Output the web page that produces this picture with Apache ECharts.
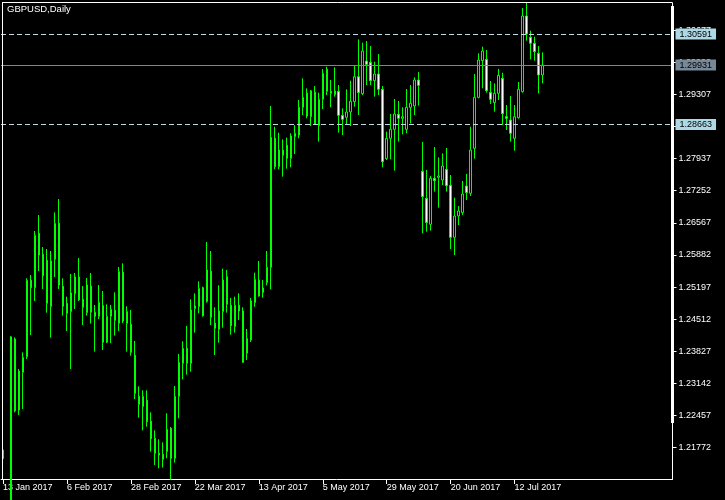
<!DOCTYPE html>
<html>
<head>
<meta charset="utf-8">
<style>
html,body{margin:0;padding:0;background:#000;}
#chart{width:725px;height:500px;}
</style>
<script src="https://cdn.jsdelivr.net/npm/echarts@6/dist/echarts.min.js"></script>
</head>
<body>
<div id="chart"></div>
<script>
const symbolTitle = 'GBPUSD,Daily';

const dates = [
'13 Jan 2017','16 Jan 2017','17 Jan 2017','18 Jan 2017','19 Jan 2017','20 Jan 2017',
'23 Jan 2017','24 Jan 2017','25 Jan 2017','26 Jan 2017','27 Jan 2017','30 Jan 2017','31 Jan 2017',
'1 Feb 2017','2 Feb 2017','3 Feb 2017','6 Feb 2017','7 Feb 2017','8 Feb 2017','9 Feb 2017','10 Feb 2017',
'13 Feb 2017','14 Feb 2017','15 Feb 2017','16 Feb 2017','17 Feb 2017','20 Feb 2017','21 Feb 2017','22 Feb 2017','23 Feb 2017','24 Feb 2017',
'27 Feb 2017','28 Feb 2017','1 Mar 2017','2 Mar 2017','3 Mar 2017','6 Mar 2017','7 Mar 2017','8 Mar 2017','9 Mar 2017','10 Mar 2017',
'13 Mar 2017','14 Mar 2017','15 Mar 2017','16 Mar 2017','17 Mar 2017','20 Mar 2017','21 Mar 2017','22 Mar 2017','23 Mar 2017','24 Mar 2017',
'27 Mar 2017','28 Mar 2017','29 Mar 2017','30 Mar 2017','31 Mar 2017','3 Apr 2017','4 Apr 2017','5 Apr 2017','6 Apr 2017','7 Apr 2017',
'10 Apr 2017','11 Apr 2017','12 Apr 2017','13 Apr 2017','14 Apr 2017','17 Apr 2017','18 Apr 2017','19 Apr 2017','20 Apr 2017','21 Apr 2017',
'24 Apr 2017','25 Apr 2017','26 Apr 2017','27 Apr 2017','28 Apr 2017','1 May 2017','2 May 2017','3 May 2017','4 May 2017','5 May 2017',
'8 May 2017','9 May 2017','10 May 2017','11 May 2017','12 May 2017','15 May 2017','16 May 2017','17 May 2017','18 May 2017','19 May 2017',
'22 May 2017','23 May 2017','24 May 2017','25 May 2017','26 May 2017','29 May 2017','30 May 2017','31 May 2017','1 Jun 2017','2 Jun 2017',
'5 Jun 2017','6 Jun 2017','7 Jun 2017','8 Jun 2017','9 Jun 2017','12 Jun 2017','13 Jun 2017','14 Jun 2017','15 Jun 2017','16 Jun 2017',
'19 Jun 2017','20 Jun 2017','21 Jun 2017','22 Jun 2017','23 Jun 2017','26 Jun 2017','27 Jun 2017','28 Jun 2017','29 Jun 2017','30 Jun 2017',
'3 Jul 2017','4 Jul 2017','5 Jul 2017','6 Jul 2017','7 Jul 2017','10 Jul 2017','11 Jul 2017','12 Jul 2017','13 Jul 2017','14 Jul 2017',
'17 Jul 2017','18 Jul 2017','19 Jul 2017','20 Jul 2017','21 Jul 2017'
];

const opens = [
1.21537,1.20400,1.20350,1.24090,1.22576,1.23379,1.23713,1.25340,1.25184,1.26342,
1.25895,1.25767,1.24779,1.25788,1.26556,1.25212,1.24850,1.24672,1.25056,1.25412,
1.24935,1.24650,1.25219,1.24658,1.24573,1.24800,1.24018,1.24573,1.24701,1.24424,
1.25511,1.24672,1.24402,1.23741,1.22867,1.22647,1.22782,1.22334,1.21971,1.21652,
1.21630,1.21687,1.22185,1.21545,1.22867,1.23571,1.23891,1.23571,1.24736,1.24779,
1.25184,1.24886,1.25532,1.24424,1.24296,1.24672,1.25418,1.24807,1.24353,1.24807,
1.24687,1.23784,1.24068,1.24864,1.25347,1.25077,1.25290,1.25617,1.28368,1.27764,
1.28112,1.28219,1.27942,1.28404,1.28439,1.29030,1.29328,1.28830,1.29349,1.28638,
1.29200,1.29839,1.29370,1.29299,1.29370,1.28858,1.28816,1.28930,1.29150,1.29683,
1.29321,1.30017,1.29989,1.29598,1.29740,1.29413,1.27935,1.28368,1.28560,1.28880,
1.28795,1.28560,1.29029,1.29058,1.29612,1.27665,1.27089,1.26535,1.27515,1.27537,
1.27480,1.27707,1.27366,1.26257,1.26712,1.26783,1.27352,1.27196,1.28155,1.29242,
1.30024,1.30053,1.29349,1.29129,1.29328,1.29647,1.28830,1.28759,1.28368,1.28809,
1.29363,1.30977,1.30522,1.30394,1.30181,1.29719
];
const highs = [
1.21950,1.20870,1.24150,1.24125,1.23450,1.23805,1.25383,1.25454,1.26392,1.26733,
1.26050,1.26009,1.25966,1.26790,1.27075,1.25383,1.24992,1.25475,1.25497,1.25817,
1.25219,1.25390,1.25497,1.24815,1.25240,1.25113,1.24829,1.24815,1.25085,1.25625,
1.25703,1.24786,1.24708,1.24047,1.23080,1.22995,1.22995,1.22526,1.22142,1.21950,
1.21886,1.22505,1.22213,1.23087,1.23770,1.24040,1.24367,1.24935,1.25063,1.25319,
1.25206,1.26158,1.25966,1.24765,1.25234,1.25589,1.25561,1.24964,1.24992,1.25063,
1.24765,1.24303,1.24964,1.25504,1.25752,1.25347,1.25966,1.29058,1.28617,1.28489,
1.28347,1.28382,1.28475,1.28652,1.29185,1.29647,1.29434,1.29399,1.29484,1.29342,
1.29846,1.29896,1.29612,1.29882,1.29505,1.29008,1.29413,1.29598,1.29910,1.30479,
1.30408,1.30444,1.30337,1.30003,1.30166,1.29484,1.28510,1.28887,1.29207,1.29164,
1.29029,1.29420,1.29505,1.29669,1.29782,1.28290,1.27693,1.27565,1.28184,1.27963,
1.28048,1.28162,1.27587,1.27103,1.26925,1.27459,1.27608,1.28617,1.29740,1.30181,
1.30323,1.30252,1.29591,1.29541,1.29847,1.29768,1.29079,1.29271,1.29079,1.29569,
1.31147,1.31260,1.30664,1.30536,1.30337,1.30202
];
const lows = [
1.21400,1.19860,1.20200,1.22526,1.22470,1.22597,1.23663,1.24175,1.24900,1.25540,
1.25156,1.24650,1.24118,1.25412,1.25156,1.24587,1.24260,1.23450,1.24729,1.24900,
1.24388,1.24587,1.24416,1.23820,1.24516,1.23855,1.24004,1.24004,1.24161,1.24260,
1.24431,1.23820,1.23734,1.22810,1.22412,1.22142,1.22220,1.21687,1.21403,1.21332,
1.21346,1.21545,1.21090,1.21453,1.22398,1.23230,1.23330,1.23393,1.24225,1.24637,
1.24566,1.24864,1.24388,1.23748,1.24011,1.24331,1.24651,1.24182,1.24225,1.24495,
1.23585,1.23642,1.24026,1.24779,1.24992,1.24971,1.25234,1.25148,1.27707,1.27707,
1.27551,1.27721,1.27750,1.28034,1.28368,1.28866,1.28795,1.28631,1.28652,1.28297,
1.28994,1.29292,1.29030,1.29256,1.28489,1.28439,1.28674,1.28631,1.29043,1.28866,
1.29292,1.29505,1.29505,1.29257,1.29292,1.27750,1.27906,1.27921,1.27679,1.28297,
1.28454,1.28475,1.28688,1.28866,1.29065,1.26343,1.26378,1.26400,1.27231,1.26890,
1.27373,1.27231,1.26009,1.25881,1.26520,1.26734,1.27053,1.27139,1.27935,1.29221,
1.29434,1.29342,1.29100,1.28937,1.29186,1.28653,1.28546,1.28297,1.28105,1.28788,
1.29342,1.30451,1.30053,1.30024,1.29328,1.29541
];
const closes = [
1.21723,1.20330,1.24139,1.22555,1.23407,1.23699,1.25340,1.25184,1.26300,1.25880,
1.25440,1.24850,1.25753,1.26556,1.25240,1.24786,1.24637,1.25070,1.25412,1.24928,
1.24765,1.25240,1.24658,1.24573,1.24872,1.24018,1.24573,1.24722,1.24488,1.25525,
1.24473,1.24424,1.23805,1.22930,1.22696,1.22867,1.22327,1.21964,1.21652,1.21616,
1.21524,1.22163,1.21545,1.22867,1.23592,1.23891,1.23571,1.24708,1.24793,1.25170,
1.24587,1.25561,1.24551,1.24317,1.24687,1.25347,1.24829,1.24374,1.24807,1.24687,
1.23592,1.24104,1.24900,1.25362,1.25006,1.25177,1.25617,1.28389,1.27764,1.28120,
1.28006,1.27942,1.28418,1.28475,1.29030,1.29242,1.28844,1.29384,1.28674,1.29200,
1.29754,1.29370,1.29328,1.29377,1.28858,1.28773,1.28930,1.29157,1.29683,1.29342,
1.30230,1.29946,1.29598,1.29740,1.29413,1.27871,1.28368,1.28560,1.28887,1.28795,
1.28830,1.29029,1.29115,1.29612,1.29498,1.27125,1.26570,1.27515,1.27466,1.27565,
1.27778,1.27359,1.26257,1.26712,1.26819,1.27181,1.27210,1.28120,1.29242,1.30038,
1.30230,1.29385,1.29200,1.29328,1.29711,1.28894,1.28795,1.28475,1.28830,1.29413,
1.30977,1.30593,1.30394,1.30216,1.29719,1.29931
];

const yTickLabels = [1.21772,1.22457,1.23142,1.23827,1.24512,1.25197,1.25882,1.26567,1.27252,1.27937,1.28622,1.29307,1.29992,1.30677];
const dashedLevels = [1.30591, 1.28663];
const bidLevel = 1.29931;

const yMin = 1.21104, yMax = 1.31254;
const shiftBars = 32;
const labelEvery = 16;

const categories = dates.concat(new Array(shiftBars).fill(''));
const ohlc = opens.map((o, i) => [o, closes[i], lows[i], highs[i]]);

const FONT = 'Liberation Sans, Arial, sans-serif';
const chart = echarts.init(document.getElementById('chart'), null, {renderer: 'canvas'});

const markData = dashedLevels.map(v => ({
  yAxis: v,
  lineStyle: {color: '#c0dce8', type: [5, 3], width: 1},
  label: {backgroundColor: '#add8e6', color: '#000'}
}));
markData.push({
  yAxis: bidLevel,
  lineStyle: {color: '#778899', type: 'solid', width: 1},
  label: {backgroundColor: '#778899', color: '#000'}
});

const showIdx = (idx, val) => idx % labelEvery === 0 && val !== '';

chart.setOption({
  backgroundColor: '#000',
  animation: false,
  textStyle: {fontFamily: FONT},
  title: {
    text: symbolTitle, left: 7, top: 4, padding: 0,
    textStyle: {color: '#fff', fontSize: 9.5, fontWeight: 'normal', fontFamily: FONT}
  },
  grid: {left: 0.5, top: 3, width: 672, height: 476, containLabel: false},
  xAxis: {
    type: 'category', data: categories, boundaryGap: true,
    axisLine: {show: true, lineStyle: {color: '#fff', width: 1}},
    axisTick: {show: true, alignWithLabel: true, interval: showIdx, length: 5, lineStyle: {color: '#fff'}},
    axisLabel: {interval: showIdx, align: 'left', color: '#fff', fontSize: 9, margin: 4, fontFamily: FONT},
    splitLine: {show: false}
  },
  yAxis: {
    type: 'value', position: 'right', min: yMin, max: yMax, scale: true,
    axisLine: {show: true, lineStyle: {color: '#fff', width: 1}},
    axisTick: {show: true, customValues: yTickLabels, length: 4, lineStyle: {color: '#fff'}},
    axisLabel: {customValues: yTickLabels, formatter: v => v.toFixed(5), color: '#fff', fontSize: 9, margin: 6, fontFamily: FONT},
    splitLine: {show: false}
  },
  series: [{
    type: 'candlestick',
    data: ohlc,
    barWidth: 2,
    clip: true,
    itemStyle: {
      color: '#000', color0: '#fff',
      borderColor: '#00ff00', borderColor0: '#00ff00', borderColorDoji: '#00ff00',
      borderWidth: 1
    },
    markLine: {
      silent: true, symbol: 'none', animation: false, precision: 5,
      label: {
        show: true, position: 'end', distance: 3,
        formatter: p => Number(p.value).toFixed(5),
        fontSize: 9, fontFamily: FONT, padding: [1, 4, 1, 4], lineHeight: 9
      },
      data: markData
    }
  }],
  graphic: [
    {type: 'line', z: 100, silent: true, shape: {x1: 2.5, y1: 2.5, x2: 2.5, y2: 479.5}, style: {stroke: '#fff', lineWidth: 1}},
    {type: 'line', z: 100, silent: true, shape: {x1: 2, y1: 2.5, x2: 672.5, y2: 2.5}, style: {stroke: '#fff', lineWidth: 1}},
    {type: 'rect', z: 100, silent: true, shape: {x: 671, y: 6, width: 3, height: 417}, style: {fill: '#fff'}}
  ]
});
</script>
</body>
</html>
